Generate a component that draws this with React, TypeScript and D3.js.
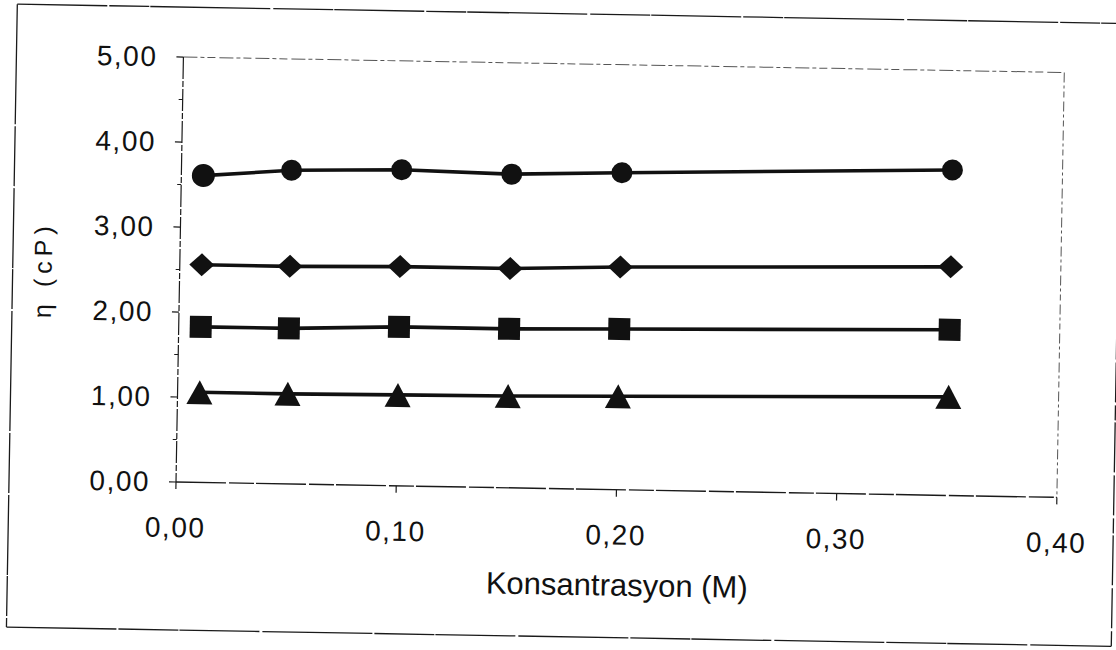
import React from 'react';
import * as d3 from 'd3';

// ---- data ----
const concentrations = [0.01, 0.05, 0.1, 0.15, 0.2, 0.35];
const circleValues = [3.61, 3.69, 3.72, 3.69, 3.73, 3.83];
const diamondValues = [2.56, 2.56, 2.58, 2.58, 2.62, 2.69];
const squareValues = [1.83, 1.83, 1.87, 1.87, 1.89, 1.95];
const triangleValues = [1.06, 1.06, 1.07, 1.08, 1.1, 1.16];

const yTicks = [0, 1, 2, 3, 4, 5];
const yTickLabels = ['0,00', '1,00', '2,00', '3,00', '4,00', '5,00'];
const yMinorTicks = [0.5, 1.5, 2.5, 3.5, 4.5];
const xTicks = [0, 0.1, 0.2, 0.3, 0.4];
const xTickLabels = ['0,00', '0,10', '0,20', '0,30', '0,40'];

const xTitle = 'Konsantrasyon (M)';
const yTitle = 'η (cP)';

const series = [
  { key: 'circle', values: circleValues },
  { key: 'diamond', values: diamondValues },
  { key: 'square', values: squareValues },
  { key: 'triangle', values: triangleValues },
];

const FONT = '"Liberation Sans", Arial, Helvetica, sans-serif';
const INK = '#111';

function Marker({ shape, cx, cy, first }: { shape: string; cx: number; cy: number; first: boolean }) {
  if (shape === 'circle') {
    return <circle cx={cx} cy={cy} r={first ? 11.5 : 10.5} fill={INK} />;
  }
  if (shape === 'square') {
    const s = 11;
    return <rect x={cx - s} y={cy - s} width={2 * s} height={2 * s} fill={INK} />;
  }
  if (shape === 'diamond') {
    const hw = 12.5, hh = 11.5;
    return (
      <polygon
        points={`${cx - hw},${cy} ${cx},${cy - hh} ${cx + hw},${cy} ${cx},${cy + hh}`}
        fill={INK}
      />
    );
  }
  const hb = 13, ht = 12;
  return (
    <polygon
      points={`${cx - hb},${cy + ht} ${cx},${cy - ht} ${cx + hb},${cy + ht}`}
      fill={INK}
    />
  );
}

export default function App() {
  const x = d3.scaleLinear().domain([0, 0.4]).range([176, 1057]);
  const y = d3.scaleLinear().domain([0, 5]).range([482, 57]);

  const line = d3
    .line<number>()
    .x((_, i) => x(concentrations[i]))
    .y((d) => y(d));

  const [x0, x1] = x.range();
  const [yb, yt] = y.range();
  const cx = (x0 + x1) / 2;

  return (
    <svg
      width={1116}
      height={650}
      viewBox="0 0 1116 650"
      style={{ position: 'absolute', left: 0, top: 0, background: '#fff' }}
    >
      <rect x={0} y={0} width={1116} height={650} fill="#fff" />
      <g transform={`rotate(1, ${x(0)}, ${y(0)})`}>
        {/* outer chart frame (scanned, broken line) */}
        <g stroke="#1a1a1a" strokeWidth={1.3} fill="none">
          <line x1={9} y1={7} x2={1114} y2={7} strokeDasharray="90 2 40 1 120 3 60 1" />
          <line x1={9} y1={7} x2={9} y2={630} strokeDasharray="120 2 60 2 80 1 40 2" />
          <line x1={9} y1={630} x2={1114} y2={630} strokeDasharray="110 2 60 1 80 3" />
          <line x1={1114} y1={7} x2={1114} y2={630} strokeDasharray="40 3 15 2 50 3" />
        </g>

        {/* plot area top & right borders (dotted grey) */}
        <g stroke="#555" strokeWidth={1} fill="none">
          <line x1={x0} y1={yt} x2={x1} y2={yt} strokeDasharray="14 3 4 3 8 4" />
          <line x1={x1} y1={yt} x2={x1} y2={yb} strokeDasharray="10 3 3 3 6 4" />
        </g>

        {/* axes */}
        <g stroke="#1a1a1a" fill="none">
          <line x1={x0} y1={yt} x2={x0} y2={yb} strokeWidth={1.2} strokeDasharray="22 2 6 2" />
          <line x1={x0} y1={yb} x2={x1} y2={yb} strokeWidth={1.4} strokeDasharray="50 3 25 2" />
          {yTicks.map((t) => (
            <line key={`yt${t}`} x1={x0 - 7} y1={y(t)} x2={x0} y2={y(t)} strokeWidth={1.2} />
          ))}
          {yMinorTicks.map((t) => (
            <line key={`ym${t}`} x1={x0 - 4} y1={y(t)} x2={x0} y2={y(t)} strokeWidth={1} />
          ))}
          {xTicks.map((t) => (
            <line key={`xt${t}`} x1={x(t)} y1={yb} x2={x(t)} y2={yb + 7} strokeWidth={1.2} />
          ))}
        </g>

        {/* tick labels */}
        <g fontFamily={FONT} fill={INK} fontSize={28} letterSpacing={1.5}>
          {yTicks.map((t, i) => (
            <text key={`yl${t}`} x={x0 - 26} y={y(t)} textAnchor="end" dominantBaseline="central">
              {yTickLabels[i]}
            </text>
          ))}
          {xTicks.map((t, i) => (
            <text key={`xl${t}`} x={x(t)} y={yb + 55} textAnchor="middle">
              {xTickLabels[i]}
            </text>
          ))}
        </g>

        {/* axis titles */}
        <text x={cx + 2} y={588} textAnchor="middle" fontFamily={FONT} fontSize={31} fill={INK}>
          {xTitle}
        </text>
        <text
          transform={`translate(48, 272) rotate(-90)`}
          textAnchor="middle"
          fontFamily={FONT}
          fontSize={25}
          letterSpacing={5}
          fill={INK}
        >
          {yTitle}
        </text>

        {/* series */}
        {series.map((s) => (
          <g key={s.key}>
            <path d={line(s.values) || ''} fill="none" stroke={INK} strokeWidth={3.6} />
            {s.values.map((v, i) => (
              <Marker key={i} shape={s.key} cx={x(concentrations[i])} cy={y(v)} first={i === 0} />
            ))}
          </g>
        ))}
      </g>
    </svg>
  );
}
